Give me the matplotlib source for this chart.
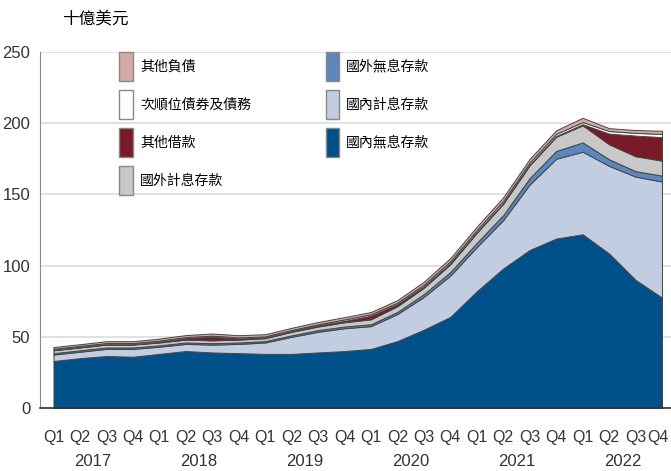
import numpy as np
import matplotlib.pyplot as plt
import matplotlib.transforms as mtransforms

plt.rcParams['font.family'] = ['Liberation Sans Narrow', 'Liberation Sans', 'DejaVu Sans']
cjk = ['Noto Sans CJK TC', 'DejaVu Sans']

quarters = ['Q1', 'Q2', 'Q3', 'Q4'] * 6
years = ['2017', '2018', '2019', '2020', '2021', '2022']

# 單位: 十億美元, 2017Q1 ~ 2022Q4
dom_nonint = [33, 35, 36.5, 36, 38, 40, 39, 38.5, 38, 38, 39, 40,
              41.5, 47, 55, 64, 82, 98, 111, 119, 122, 108.5, 90, 77.5]
dom_int = [4.5, 4.5, 5, 5.5, 5, 5, 5.5, 6.5, 8, 12, 14.5, 16,
           16, 19, 23, 29, 31, 34, 46, 56, 58, 61.5, 72.5, 81.5]
for_nonint = [1, 1, 1, 1, 1, 1, 1, 1, 1, 1, 1.2, 1.2,
              1.3, 1.5, 2, 2.5, 3, 3.5, 4.5, 5.5, 6.5, 4.7, 3.8, 4.2]
for_int = [2, 2, 2, 2, 2, 2, 2, 2, 2, 2.5, 2.5, 3,
           3.5, 4, 4.5, 5.5, 7, 8, 9, 10, 12, 10.5, 10.5, 10.5]
other_borrow = [0.3, 0.3, 0.3, 0.3, 0.5, 1, 2.5, 0.8, 0.5, 0.5, 0.8, 1,
                2.5, 1.5, 1, 0.8, 0.6, 0.5, 0.5, 0.5, 0.8, 7.5, 14.5, 16.5]
sub_debt = [0.8, 0.8, 0.8, 0.8, 0.8, 0.8, 0.8, 0.8, 0.8, 0.8, 0.8, 1,
            1, 1, 1.2, 1.3, 1.4, 1.5, 1.5, 1.5, 1.5, 1.8, 1.9, 2.3]
other_liab = [1.2, 1.2, 1.3, 1.3, 1.4, 1.4, 1.5, 1.5, 1.5, 1.5, 1.6, 1.6,
              1.6, 1.8, 2, 2.2, 2.4, 2.5, 2.5, 2.5, 3, 2, 2, 2.2]

labels = ['國內無息存款', '國內計息存款', '國外無息存款', '國外計息存款',
          '其他借款', '次順位債券及債務', '其他負債']
colors = ['#00508a', '#c2cde2', '#5b87bd', '#c8c8c8',
          '#7a1a27', '#ffffff', '#d6aaa4']

x = np.arange(len(quarters))

fig = plt.figure(figsize=(6.71, 4.71), dpi=100)
ax = fig.add_axes([0.0596, 0.1338, 0.9404, 0.7558])

polys = ax.stackplot(x, dom_nonint, dom_int, for_nonint, for_int,
                     other_borrow, sub_debt, other_liab,
                     colors=colors, labels=labels,
                     edgecolor='#444444', linewidth=0.7, zorder=2)

ax.set_xlim(-0.51, 23.34)
ax.set_ylim(0, 250)
ax.set_yticks(range(0, 251, 50))
ax.yaxis.grid(True, color='#dcdcdc', linewidth=1.2, zorder=0)
ax.set_axisbelow(True)

ax.set_xticks(x)
ax.set_xticklabels(quarters)
ax.tick_params(axis='both', length=0, labelsize=12, colors='#333333')
ax.tick_params(axis='x', pad=16, labelsize=11.5)
ax.tick_params(axis='y', pad=7)

# 最後一個 Q4 稍微往左, 避免貼邊
last = ax.get_xticklabels()[-1]
last.set_transform(last.get_transform() +
                   mtransforms.ScaledTranslation(-3 / 72, 0, fig.dpi_scale_trans))

for s in ['top', 'right']:
    ax.spines[s].set_visible(False)
ax.spines['left'].set_color('#8a8a8a')
ax.spines['bottom'].set_color('#333333')
ax.spines['bottom'].set_linewidth(1.2)

trans = mtransforms.blended_transform_factory(ax.transData, ax.transAxes)
for i, yr in enumerate(years):
    ax.text(4 * i + 1.5, -0.15, yr, transform=trans, ha='center', va='center',
            fontsize=12, color='#333333')

fig.text(0.092, 0.957, '十億美元', family=cjk, fontsize=12, ha='left', va='center')

# 圖例順序與堆疊相反 (上層在前)
handles, labs = ax.get_legend_handles_labels()
leg = ax.legend(handles[::-1], labs[::-1], ncol=2, loc='upper left',
                bbox_to_anchor=(0.106, 1.035), frameon=False,
                prop={'family': cjk, 'size': 10},
                handlelength=1.0, handleheight=2.8, handletextpad=0.5,
                labelspacing=0.68, columnspacing=5.35)
for h in leg.legend_handles:
    h.set_edgecolor('#888888')
    h.set_linewidth(1.0)

fig.savefig('out.png', dpi=100)
